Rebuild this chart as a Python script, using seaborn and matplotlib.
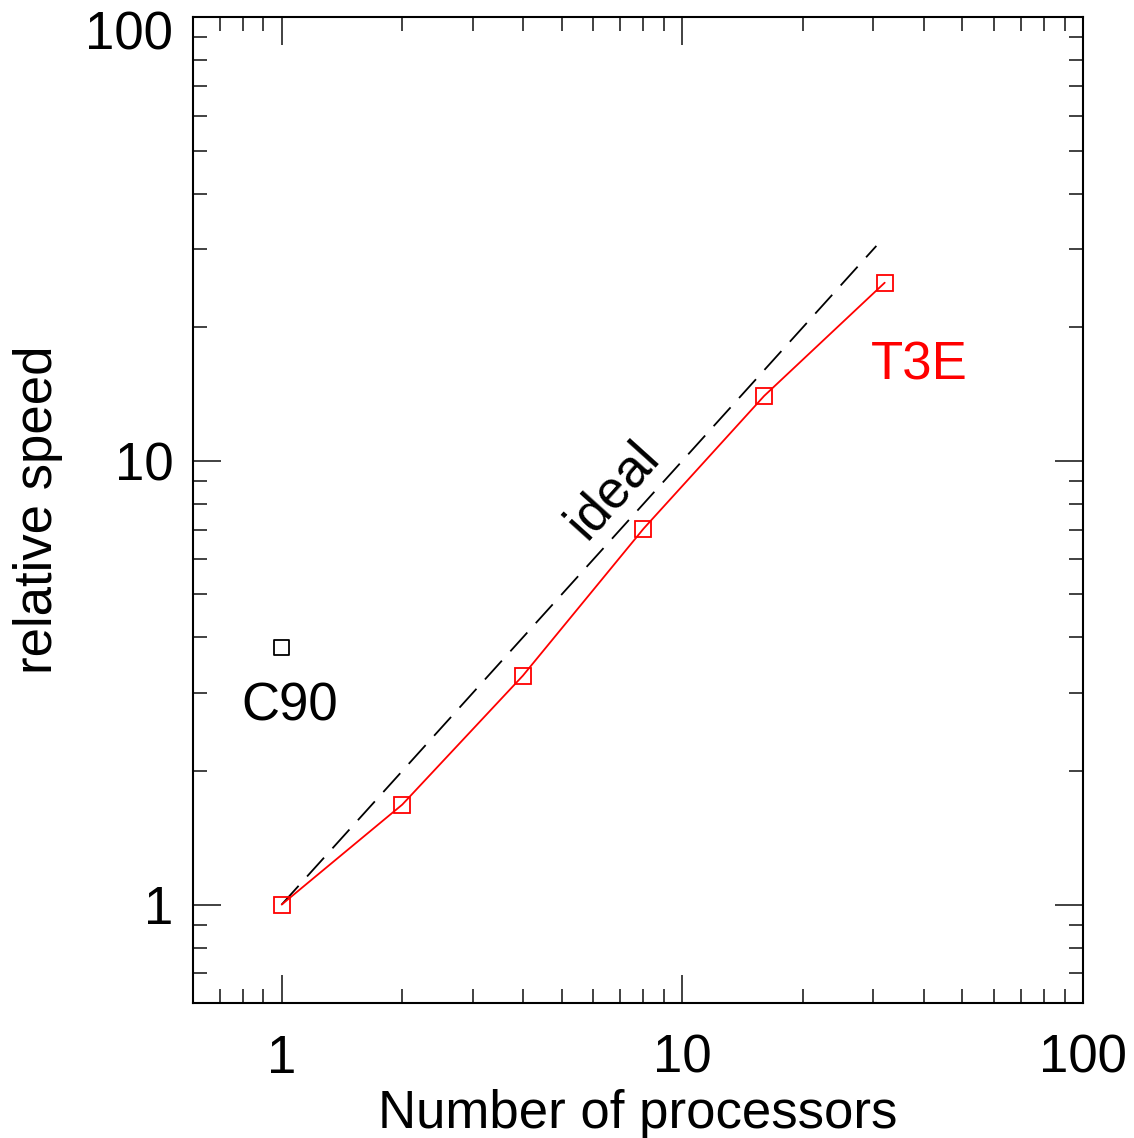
import numpy as np
import pandas as pd
import matplotlib
matplotlib.use("Agg")
import matplotlib.pyplot as plt
import matplotlib.transforms as mtransforms
import seaborn as sns

# du lieu doc tu hinh
procs = [1, 2, 4, 8, 16, 32]
t3e_speed = [1.0, 1.68, 3.28, 7.03, 14.0, 25.2]
ideal_procs = [1, 30.5]
ideal_speed = [1, 30.5]
c90_procs = [1]
c90_speed = [3.8]

sns.set_theme(style="ticks")
plt.rcParams["font.family"] = ["Liberation Sans", "DejaVu Sans"]
plt.rcParams["text.color"] = "black"
plt.rcParams["axes.labelcolor"] = "black"
plt.rcParams["xtick.labelcolor"] = "black"
plt.rcParams["ytick.labelcolor"] = "black"

df_t3e = pd.DataFrame({"procs": procs, "speed": t3e_speed})
df_ideal = pd.DataFrame({"procs": ideal_procs, "speed": ideal_speed})
df_c90 = pd.DataFrame({"procs": c90_procs, "speed": c90_speed})

fs = 38
fig = plt.figure(figsize=(11.34, 11.38), dpi=100)
ax = fig.add_axes([0.170, 0.1186, 0.785, 0.8664])

sns.lineplot(data=df_ideal, x="procs", y="speed", ax=ax, color="black",
             linewidth=1.3, dashes=False, linestyle=(0, (14, 7)))
sns.lineplot(data=df_t3e, x="procs", y="speed", ax=ax, color="red",
             linewidth=1.3, marker="s", markersize=12, markerfacecolor="none",
             markeredgecolor="red", markeredgewidth=1.3)
sns.scatterplot(data=df_c90, x="procs", y="speed", ax=ax, marker="s", s=120,
                facecolor="none", edgecolor="black", linewidth=1.3)

ax.set_xscale("log")
ax.set_yscale("log")
ax.set_xlim(0.6, 100)
ax.set_ylim(0.6, 100)
ax.set_xticks([1, 10, 100])
ax.set_xticklabels(["1", "10", "100"])
ax.set_yticks([1, 10, 100])
ax.set_yticklabels(["1", "10", "100"])
ax.tick_params(which="both", direction="in", top=True, right=True, labelsize=fs,
               color="#333333", width=1.3)
ax.tick_params(which="major", length=20)
ax.tick_params(axis="x", which="major", pad=22)
ax.tick_params(axis="y", which="major", pad=14)
ax.tick_params(which="minor", length=10)
for s in ax.spines.values():
    s.set_linewidth(1.5)
    s.set_color("black")

# nhan "100" tren cung bi day xuong mot chut nhu hinh goc
top_lbl = ax.get_yticklabels()[-1]
top_lbl.set_transform(top_lbl.get_transform() +
                      mtransforms.ScaledTranslation(0, -13 / 100, fig.dpi_scale_trans))

ax.set_xlabel("Number of processors", fontsize=fs, labelpad=4)
ax.set_ylabel("relative speed", fontsize=fs, labelpad=16)

ax.text(1.05, 2.8, "C90", fontsize=fs, ha="center", va="center", color="black")
ax.text(39, 16.4, "T3E", fontsize=fs, ha="center", va="center", color="red")
ax.text(6.7, 8.6, "ideal", fontsize=fs, ha="center", va="center", color="black",
        rotation=48)

plt.savefig("out.png", dpi=100)
